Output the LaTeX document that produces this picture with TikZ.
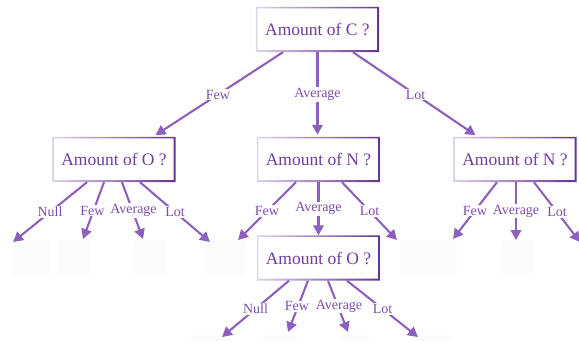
\documentclass[tikz,border=0pt]{standalone}
\usepackage{fontspec}
\setmainfont{Liberation Serif}
\usetikzlibrary{arrows.meta}
\definecolor{textc}{RGB}{112,62,160}
\definecolor{labc}{RGB}{125,78,175}
\definecolor{arrc}{RGB}{141,96,190}
\definecolor{frl}{RGB}{222,212,236}
\definecolor{frd}{RGB}{100,50,150}
\definecolor{ghost}{RGB}{252,252,252}
\newcommand\gframe[1]{%
  \shade[left color=frl, right color=frd, even odd rule]
    (#1.south west) rectangle (#1.north east)
    ([shift={(1.5pt,2.2pt)}]#1.south west) rectangle ([shift={(-2.2pt,-1.5pt)}]#1.north east);}
\tikzset{
  qbox/.style={fill=white, minimum width=123pt, minimum height=45pt, inner sep=0pt,
    text=textc, font=\fontsize{17.5}{20}\selectfont},
  arr/.style={draw=arrc, line width=2.1pt, -{Triangle[length=10pt,width=10.5pt]}},
  lab/.style={fill=white, inner sep=1pt, text=labc, font=\fontsize{14}{16}\selectfont},
  ghostbox/.style={fill=ghost, draw=none}
}
\begin{document}
\begin{tikzpicture}[x=1pt,y=-1pt]
\useasboundingbox (0,0) rectangle (579,341);
\clip (0,0) rectangle (579,341);
% faint leaf boxes
\fill[ghostbox] (12,241) rectangle (50,275);
\fill[ghostbox] (57,241) rectangle (90,275);
\fill[ghostbox] (133,241) rectangle (167,275);
\fill[ghostbox] (205,241) rectangle (245,275);
\fill[ghostbox] (400,241) rectangle (457,275);
\fill[ghostbox] (501,241) rectangle (534,275);
\fill[ghostbox] (187,335) rectangle (230,341);
\fill[ghostbox] (263,335) rectangle (297,341);
\fill[ghostbox] (340,335) rectangle (373,341);
\fill[ghostbox] (408,335) rectangle (452,341);
% boxes
\node[qbox] (top) at (317.5,29.5) {Amount of C ?};
\node[qbox] (lo) at (114,159.5) {Amount of O ?};
\node[qbox] (mn) at (318.5,159.5) {Amount of N ?};
\node[qbox] (rn) at (515,159.5) {Amount of N ?};
\node[qbox] (bo) at (318.5,258) {Amount of O ?};
\gframe{top}\gframe{lo}\gframe{mn}\gframe{rn}\gframe{bo}
% leaf end points
\coordinate (lo1) at (13,242);
\coordinate (lo2) at (83,239);
\coordinate (lo3) at (143,239);
\coordinate (lo4) at (210,242);
\coordinate (mn1) at (238,240);
\coordinate (mn3) at (397,240);
\coordinate (rn1) at (453,239);
\coordinate (rn2) at (516,240);
\coordinate (rn3) at (580,242);
\coordinate (bo1) at (222,337);
\coordinate (bo2) at (288,332);
\coordinate (bo3) at (348,332);
\coordinate (bo4) at (418,337);
% top level
\draw[arr, shorten >=3pt] ([xshift=-34.5pt]top.south) -- node[lab]{Few} ([xshift=39pt]lo.north);
\draw[arr, shorten >=2pt] (top.south) -- node[lab]{Average} (top.south |- mn.north);
\draw[arr, shorten >=3pt] ([xshift=35.5pt]top.south) -- node[lab]{Lot} ([xshift=-37pt]rn.north);
% left O
\draw[arr] ([xshift=-27pt]lo.south) -- node[lab]{Null} (lo1);
\draw[arr] ([xshift=-10pt]lo.south) -- node[lab, xshift=-1pt]{Few} (lo2);
\draw[arr] ([xshift=8pt]lo.south) -- node[lab, xshift=1pt]{Average} (lo3);
\draw[arr] ([xshift=26pt]lo.south) -- node[lab]{Lot} (lo4);
% middle N
\draw[arr] ([xshift=-22.5pt]mn.south) -- node[lab]{Few} (mn1);
\draw[arr] (mn.south) -- node[lab]{Average} (bo.north);
\draw[arr] ([xshift=23.5pt]mn.south) -- node[lab]{Lot} (mn3);
% right N
\draw[arr] ([xshift=-18pt]rn.south) -- node[lab]{Few} (rn1);
\draw[arr] ([xshift=1pt]rn.south) -- node[lab]{Average} (rn2);
\draw[arr] ([xshift=19pt]rn.south) -- node[lab]{Lot} (rn3);
% bottom O
\draw[arr] ([xshift=-29.5pt]bo.south) -- node[lab]{Null} (bo1);
\draw[arr] ([xshift=-10.5pt]bo.south) -- node[lab, xshift=-1pt]{Few} (bo2);
\draw[arr] ([xshift=9.5pt]bo.south) -- node[lab, xshift=1pt]{Average} (bo3);
\draw[arr] ([xshift=28.5pt]bo.south) -- node[lab]{Lot} (bo4);
\end{tikzpicture}
\end{document}
